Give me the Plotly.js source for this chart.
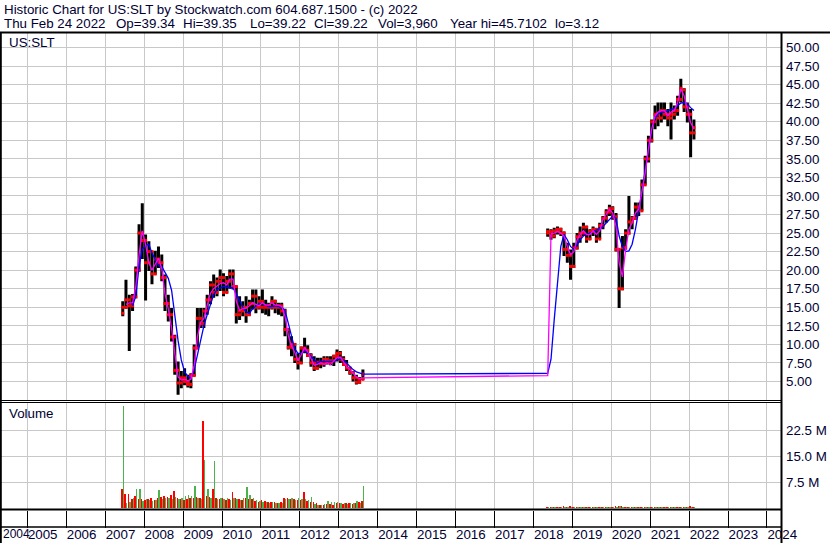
<!DOCTYPE html>
<html>
<head>
<meta charset="utf-8">
<script src="https://cdn.plot.ly/plotly-3.0.1.min.js"></script>
<style>html,body{margin:0;padding:0;background:#fff;}#chart{width:830px;height:543px;}</style>
</head>
<body>
<div id="chart"></div>
<script>
// ---- data (monthly samples) ----
const months = [
'2007-06-15','2007-07-15','2007-08-15','2007-09-15','2007-10-15','2007-11-15','2007-12-15',
'2008-01-15','2008-02-15','2008-03-15','2008-04-15','2008-05-15','2008-06-15','2008-07-15','2008-08-15','2008-09-15','2008-10-15','2008-11-15','2008-12-15',
'2009-01-15','2009-02-15','2009-03-15','2009-04-15','2009-05-15','2009-06-15','2009-07-15','2009-08-15','2009-09-15','2009-10-15','2009-11-15','2009-12-15',
'2010-01-15','2010-02-15','2010-03-15','2010-04-15','2010-05-15','2010-06-15','2010-07-15','2010-08-15','2010-09-15','2010-10-15','2010-11-15','2010-12-15',
'2011-01-15','2011-02-15','2011-03-15','2011-04-15','2011-05-15','2011-06-15','2011-07-15','2011-08-15','2011-09-15','2011-10-15','2011-11-15','2011-12-15',
'2012-01-15','2012-02-15','2012-03-15','2012-04-15','2012-05-15','2012-06-15','2012-07-15','2012-08-15','2012-09-15','2012-10-15','2012-11-15','2012-12-15',
'2013-01-15','2013-02-15','2013-03-15','2013-04-15','2013-05-15','2013-06-15','2013-07-15','2013-08-15',
'2018-05-15','2018-06-15','2018-07-15','2018-08-15','2018-09-15','2018-10-15','2018-11-15','2018-12-15',
'2019-01-15','2019-02-15','2019-03-15','2019-04-15','2019-05-15','2019-06-15','2019-07-15','2019-08-15','2019-09-15','2019-10-15','2019-11-15','2019-12-15',
'2020-01-15','2020-02-15','2020-03-15','2020-04-15','2020-05-15','2020-06-15','2020-07-15','2020-08-15','2020-09-15','2020-10-15','2020-11-15','2020-12-15',
'2021-01-15','2021-02-15','2021-03-15','2021-04-15','2021-05-15','2021-06-15','2021-07-15','2021-08-15','2021-09-15','2021-10-15','2021-11-15','2021-12-15',
'2022-01-15','2022-02-15'];

const open = [
14.2,15.0,16.0,15.2,16.4,20.0,25.0,
24.0,21.0,22.5,19.5,21.5,21.0,19.0,15.5,14.0,11.0,6.5,4.8,
5.5,5.0,4.6,5.8,9.5,13.5,12.8,14.5,16.0,18.0,17.0,18.5,
19.0,17.0,18.5,19.5,17.8,14.0,14.5,15.0,14.0,15.5,16.5,15.0,
15.8,15.0,15.2,15.0,15.8,15.0,15.2,14.5,12.0,9.6,10.0,8.0,
7.5,9.5,9.2,8.5,7.5,6.8,7.6,7.4,8.0,7.7,7.8,8.4,
8.8,8.0,7.3,6.8,6.2,5.5,4.9,5.3,
25.0,25.2,24.6,25.3,25.5,25.0,22.8,22.0,
20.5,23.0,24.5,25.0,25.8,24.2,25.2,25.5,24.2,26.0,27.0,27.8,
28.3,27.2,22.8,17.5,23.0,25.0,26.5,27.0,28.5,28.0,31.5,35.0,
37.5,40.0,41.0,40.5,41.5,41.0,40.5,41.0,41.5,43.0,44.3,42.0,
41.0,38.5];
const high = [
15.8,18.7,16.7,16.8,20.5,26.2,29.0,
24.8,23.9,22.6,22.6,23.2,22.1,19.4,16.7,14.9,11.3,7.7,6.4,
6.8,5.9,6.1,10.0,14.9,14.9,14.9,16.7,18.5,19.4,19.0,20.1,
19.6,19.2,20.1,20.1,17.9,16.5,15.8,16.5,16.0,17.4,17.4,16.5,
17.4,16.0,15.6,16.5,16.0,15.6,15.6,14.8,12.2,11.1,10.2,8.8,
9.7,10.9,9.9,8.8,8.4,8.2,8.2,8.4,8.4,8.4,8.6,9.3,
9.1,8.4,7.9,7.0,6.4,5.9,5.6,6.6,
25.6,25.5,25.7,25.9,25.7,25.2,23.7,22.8,
23.7,25.0,25.9,26.4,26.0,25.5,25.9,25.6,26.4,27.3,28.2,28.8,
28.6,27.7,22.9,24.6,25.5,30.0,27.3,29.1,29.1,32.2,35.4,38.1,
40.3,42.2,42.6,42.6,42.6,41.7,42.6,42.2,43.5,45.8,44.5,42.6,
41.7,40.3];
const low = [
13.8,14.8,9.1,14.5,16.2,19.8,21.5,
15.9,19.9,18.1,19.4,20.3,18.5,14.5,13.1,10.4,5.9,3.2,4.1,
4.5,4.2,4.1,5.7,9.5,12.2,12.2,14.0,15.4,16.3,16.5,17.2,
16.5,16.9,17.5,17.4,12.8,13.3,13.8,12.9,13.9,14.7,14.2,14.7,
14.2,14.0,13.8,14.7,14.2,14.0,13.8,11.1,9.3,8.4,7.5,6.6,
7.4,8.8,8.3,7.0,6.4,6.6,6.8,7.0,7.3,7.2,7.1,7.7,
7.5,7.1,6.4,5.9,5.0,4.6,4.7,5.2,
24.5,24.1,24.3,24.8,24.6,21.9,21.0,18.7,
20.3,22.8,23.7,24.6,23.7,24.1,24.6,23.7,24.2,25.5,26.4,27.3,
26.8,22.5,14.9,17.3,22.8,24.8,25.5,26.8,27.3,28.0,31.5,34.5,
37.2,39.0,39.4,39.9,40.3,39.4,37.6,40.3,40.8,42.6,41.3,39.9,
35.2,37.6];
const close = [
15.0,16.0,15.2,16.4,20.0,25.0,24.0,
21.0,22.5,19.5,21.5,21.0,19.0,15.5,14.0,11.0,6.5,4.8,5.5,
5.0,4.6,5.8,9.5,13.5,12.8,14.5,16.0,18.0,17.0,18.5,19.0,
17.0,18.5,19.5,17.8,14.0,14.5,15.0,14.0,15.5,16.5,15.0,15.8,
15.0,15.2,15.0,15.8,15.0,15.2,14.5,12.0,9.6,10.0,8.0,7.5,
9.5,9.2,8.5,7.5,6.8,7.6,7.4,8.0,7.7,7.8,8.4,8.8,
8.0,7.3,6.8,6.2,5.5,4.9,5.3,6.0,
25.2,24.6,25.3,25.5,25.0,22.8,22.0,20.5,
23.0,24.5,25.0,25.8,24.2,25.2,25.5,24.2,26.0,27.0,27.8,28.3,
27.2,22.8,17.5,23.0,25.0,26.5,27.0,28.5,28.0,31.5,35.0,37.5,
40.0,41.0,40.5,41.5,41.0,40.5,41.0,41.5,43.0,44.5,42.0,41.0,
38.5,39.2];
// short moving average (magenta)
const maFast = [
null,15.4,15.6,15.6,17.8,22.1,25.3,
23.5,21.0,20.0,20.8,21.6,20.2,16.8,14.8,12.2,8.8,5.6,5.2,
5.3,5.1,5.3,7.2,11.0,13.0,13.5,15.3,16.9,17.5,17.8,18.2,
18.3,18.0,18.8,18.8,15.8,14.6,14.8,14.9,15.2,15.6,15.4,15.2,
15.6,15.3,15.3,15.6,15.3,15.3,15.1,13.8,11.2,9.8,8.9,7.8,
8.6,9.6,9.0,8.0,7.2,7.3,7.5,7.3,7.5,7.3,7.7,8.2,
8.3,7.7,7.0,6.6,6.1,5.6,5.4,5.5,
5.8,24.9,25.0,25.2,25.0,24.6,23.2,22.1,
22.5,24.1,24.8,25.3,24.8,24.8,25.3,24.8,25.3,26.8,27.5,28.2,
27.7,25.9,21.0,19.1,22.8,25.5,26.4,27.7,28.2,30.4,33.1,36.3,
39.0,40.8,41.3,41.5,41.5,40.8,41.3,41.5,42.6,44.4,43.5,41.7,
39.9,39.0];
// long moving average (blue)
const maSlow = [
null,null,null,15.2,16.5,20.5,22.8,
23.3,23.5,22.3,21.5,20.6,20.5,19.8,18.9,17.3,13.6,10.5,7.9,
6.3,5.7,5.4,6.6,8.6,10.6,12.5,14.0,15.4,16.7,17.4,17.6,
17.8,17.7,17.7,17.6,16.8,15.8,15.0,14.4,14.2,14.8,15.2,15.5,
15.5,15.3,15.1,15.1,15.2,15.1,15.0,14.6,12.8,11.0,9.4,8.8,
8.8,9.1,8.9,8.4,7.9,7.5,7.7,7.7,7.7,7.7,7.7,7.9,
8.0,7.9,7.5,7.0,6.6,6.3,6.1,6.0,
6.1,8.0,13.3,18.5,23.2,24.8,24.1,23.2,
22.8,23.4,24.1,24.6,24.8,25.0,25.1,25.4,25.6,25.9,26.4,26.8,
27.3,27.0,24.6,23.2,22.5,22.6,23.5,25.5,27.8,30.5,33.5,36.5,
39.0,40.5,41.0,41.3,41.3,41.5,41.6,41.8,42.2,42.5,42.6,42.4,
41.9,41.5];
// volume in millions (largest down-day / up-day bar seen in each month)
const volDown = [
5.5,4.0,4.0,2.6,3.5,2.6,2.6,
2.3,2.6,3.0,2.2,2.8,3.2,3.5,3.2,3.8,5.0,3.0,2.6,
2.2,2.5,2.8,3.0,3.2,3.0,25.2,3.6,3.2,5.5,2.8,2.5,
3.0,2.4,2.6,4.5,3.0,2.6,2.4,3.0,2.6,2.5,2.0,1.8,
2.2,1.9,1.7,1.6,1.8,1.5,1.6,2.8,2.9,2.6,2.7,2.2,
2.4,4.5,2.0,1.8,1.6,1.3,1.0,1.0,1.1,1.2,1.0,1.4,
1.5,1.2,1.3,1.4,1.2,1.5,1.6,2.0,
0.4,0.3,0.4,0.3,0.4,0.5,0.4,0.5,
0.4,0.3,0.4,0.3,0.3,0.4,0.3,0.3,0.4,0.3,0.4,0.3,
0.4,0.5,0.6,0.5,0.4,0.4,0.3,0.3,0.4,0.4,0.3,0.4,
0.4,0.4,0.3,0.4,0.3,0.3,0.4,0.3,0.4,0.4,0.4,0.4,
0.5,0.4];
const volUp = [
29.5,1.5,1.8,3.0,5.5,5.5,2.1,
2.6,2.3,2.0,2.4,5.2,2.5,2.8,3.0,2.6,3.2,2.5,3.0,
3.5,3.7,3.5,6.3,3.0,2.6,13.9,5.5,3.0,13.6,2.5,3.0,
2.6,2.8,2.4,2.8,2.5,2.2,2.8,6.0,3.8,3.0,2.2,2.0,
1.6,1.7,1.5,1.8,1.4,1.3,1.4,2.6,2.5,2.8,2.4,2.9,
2.5,2.6,2.3,3.2,1.2,1.0,0.9,1.1,1.9,1.6,1.8,1.7,
1.3,1.4,1.1,1.5,1.3,1.9,1.4,6.4,
0.3,0.3,0.2,0.3,0.3,0.4,0.3,0.3,
0.3,0.4,0.3,0.3,0.4,0.3,0.3,0.4,0.3,0.3,0.3,0.4,
0.3,0.3,0.5,0.4,0.3,0.4,0.3,0.4,0.3,0.3,0.4,0.3,
0.3,0.3,0.4,0.3,0.3,0.4,0.3,0.3,0.3,0.3,0.3,0.3,
0.3,0.3];
const priceTicks = [5,7.5,10,12.5,15,17.5,20,22.5,25,27.5,30,32.5,35,37.5,40,42.5,45,47.5,50];
const volTicks = [7.5,15,22.5];
const volTickText = ['7.5 M','15.0 M','22.5 M'];
const header1 = 'Historic Chart for US:SLT by Stockwatch.com 604.687.1500 - (c) 2022';
// second header line: its fields and their left edges (px)
const header2Fields = ['Thu Feb 24 2022','Op=39.34','Hi=39.35','Lo=39.22','Cl=39.22','Vol=3,960','Year hi=45.7102','lo=3.12'];
const header2Pos = [3, 115, 182, 249, 313, 377, 449, 554];
const symbolLabel = 'US:SLT';
const volumeLabel = 'Volume';
const firstYearLabel = '2004';

// ---- layout helpers (pixel -> paper) ----
const W = 830, H = 543, ML = 1, MR = 49, MT = 33, MB = 33;
const PW = W - ML - MR, PH = H - MT - MB;
const fx = p => (p - ML) / PW;
const fy = p => (H - MB - p) / PH;
const FONT = '"Liberation Sans", Arial, sans-serif';
const TXT = '#000033';
const GRID = '#c8c8c8';

const traces = [
  {type:'ohlc', x:months, open:open, high:high, low:low, close:close, xaxis:'x', yaxis:'y',
   increasing:{line:{color:'#000000', width:3}}, decreasing:{line:{color:'#000000', width:3}},
   line:{width:3}, tickwidth:0.15, hoverinfo:'skip'},
  {type:'scatter', mode:'markers', x:months, y:open, xaxis:'x', yaxis:'y',
   marker:{symbol:'square', size:3, color:'#ff0000', line:{width:0}}, hoverinfo:'skip'},
  {type:'scatter', mode:'markers', x:months, y:close, xaxis:'x', yaxis:'y',
   marker:{symbol:'square', size:3, color:'#ff0000', line:{width:0}}, hoverinfo:'skip'},
  {type:'scatter', mode:'lines', x:months, y:maSlow, xaxis:'x', yaxis:'y',
   line:{color:'#0000ff', width:1.3}, connectgaps:false, hoverinfo:'skip'},
  {type:'scatter', mode:'lines', x:months, y:maFast, xaxis:'x', yaxis:'y',
   line:{color:'#ff00ff', width:1.3}, connectgaps:false, hoverinfo:'skip'},
  {type:'bar', x:months, y:volDown, xaxis:'x', yaxis:'y2', marker:{color:'#ff0000', line:{width:0}}, hoverinfo:'skip'},
  {type:'bar', x:months, y:volUp, xaxis:'x', yaxis:'y2', marker:{color:'#4cb34c', line:{width:0}}, hoverinfo:'skip'}
];

const ann = (text, xp, yp, anchor, size) => ({text:text, x:fx(xp), y:fy(yp), xref:'paper', yref:'paper',
  xanchor:anchor||'left', yanchor:'middle', showarrow:false, borderpad:0,
  font:{family:FONT, size:size||13.33, color:TXT}});

const hline = (y, x0, x1, w) => ({type:'line', xref:'paper', yref:'paper', x0:fx(x0), x1:fx(x1), y0:fy(y), y1:fy(y), line:{color:'#000', width:w}});
const vline = (x, y0, y1, w) => ({type:'line', xref:'paper', yref:'paper', x0:fx(x), x1:fx(x), y0:fy(y0), y1:fy(y1), line:{color:'#000', width:w}});

const annotations = [ann(header1, 3, 9), ann(symbolLabel, 8, 42), ann(volumeLabel, 8, 413),
  ann(firstYearLabel, 2, 534, 'left', 12)];
header2Fields.forEach((t, i) => annotations.push(ann(t, header2Pos[i], 23)));

const layout = {
  width:W, height:H,
  margin:{l:ML, r:MR, t:MT, b:MB, pad:0},
  paper_bgcolor:'#ffffff', plot_bgcolor:'#ffffff',
  showlegend:false,
  barmode:'group', bargap:0, bargroupgap:0,
  font:{family:FONT, size:13.33, color:TXT},
  xaxis:{type:'date', range:['2004-04-28 12:00','2024-05-11 21:00'], anchor:'y2',
    tickmode:'linear', tick0:'2004-01-01', dtick:'M12', tickformat:'%Y', tickangle:0,
    ticks:'outside', ticklen:17, tickwidth:1, tickcolor:'#000000',
    ticklabelposition:'outside right', ticklabeloverflow:'allow', ticklabelstandoff:12,
    showgrid:true, gridcolor:GRID, gridwidth:1, zeroline:false, showline:false,
    tickfont:{family:FONT, size:13.33, color:TXT},
    rangeslider:{visible:false}, fixedrange:true},
  yaxis:{domain:[fy(400),1], range:[2.507,51.954], side:'right', anchor:'x',
    tickmode:'array', tickvals:priceTicks, tickformat:'.2f', ticks:'',
    showgrid:true, gridcolor:GRID, gridwidth:1, zeroline:false, showline:false,
    ticklabelstandoff:4,
    tickfont:{family:FONT, size:13.33, color:TXT}, fixedrange:true},
  yaxis2:{domain:[0,fy(402)], range:[-0.577,30.58], side:'right', anchor:'x',
    tickmode:'array', tickvals:volTicks, ticktext:volTickText, ticks:'',
    showgrid:true, gridcolor:GRID, gridwidth:1, zeroline:false, showline:false,
    ticklabelstandoff:4,
    tickfont:{family:FONT, size:13.33, color:TXT}, fixedrange:true},
  annotations:annotations,
  shapes:[
    hline(32.5, 0, 830, 2),
    hline(400.5, 0, 781, 1),
    hline(402.5, 0, 781, 1),
    hline(509.5, 0, 781, 2),
    hline(527, 0, 781, 1.5),
    vline(0.8, 32, 543, 2),
    vline(781.5, 32, 543, 2)
  ]
};

Plotly.newPlot('chart', traces, layout, {staticPlot:true, displayModeBar:false});
</script>
</body>
</html>
